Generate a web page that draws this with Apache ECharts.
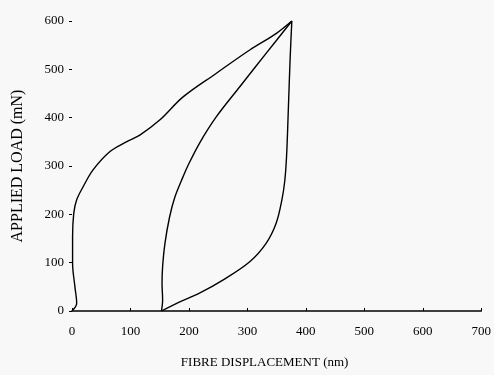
<!DOCTYPE html>
<html>
<head>
<meta charset="utf-8">
<script src="https://cdn.jsdelivr.net/npm/echarts@6/dist/echarts.min.js"></script>
<style>
html,body{margin:0;padding:0;background:#f8f8f8;}
#chart{width:494px;height:375px;}
</style>
</head>
<body>
<div id="chart"></div>
<script>
// Loading curve (from origin up to peak)
var loadingCurve = [
  [0,0],[8,16],[5,50],[1,99],[1,154],[3,202],[8,230],[19,257],[36,292],
  [65,330],[93,350],[116,364],[150,395],[190,443],[247,492],[304,540],
  [349,574],[376,600]
];
// Unloading curve (from peak down to residual displacement)
var unloadingCurve = [
  [376,600],[373,519],[370,416],[367,320],[364,270],[359,230],[349,181],
  [332,140],[304,102],[258,64],[218,37],[179,16],[153,0]
];
// Reloading curve (from residual displacement back up to peak)
var reloadingCurve = [
  [153,0],[155,23],[154,57],[155,92],[159,140],[167,195],[176,236],
  [190,278],[198,300],[218,347],[247,402],[287,464],[332,533],[376,600]
];
var xTicks = [0,100,200,300,400,500,600,700];
var yTicks = [0,100,200,300,400,500,600];

var font = '"Liberation Serif", "DejaVu Serif", serif';
var chart = echarts.init(document.getElementById('chart'));
function lineSeries(name, data) {
  return {
    name: name, type: 'line', data: data, smooth: 0.35, showSymbol: false,
    lineStyle: {color: '#000', width: 1.4}, animation: false
  };
}
chart.setOption({
  backgroundColor: '#f8f8f8',
  animation: false,
  grid: {left: 72, right: 12, top: 21, bottom: 64},
  xAxis: {
    type: 'value', min: xTicks[0], max: xTicks[xTicks.length-1], interval: 100,
    name: 'FIBRE DISPLACEMENT (nm)', nameLocation: 'middle', nameGap: 45,
    nameTextStyle: {fontFamily: font, fontSize: 13, color: '#000', padding: [0, 24, 0, 0]},
    axisLine: {show: true, onZero: false, lineStyle: {color: '#000', width: 1.5}},
    axisTick: {show: true, inside: true, length: 3, lineStyle: {color: '#000'}},
    axisLabel: {fontFamily: font, fontSize: 13, color: '#000', margin: 14},
    splitLine: {show: false}
  },
  yAxis: {
    type: 'value', min: yTicks[0], max: yTicks[yTicks.length-1], interval: 100,
    name: 'APPLIED LOAD (mN)', nameLocation: 'middle', nameGap: 46,
    nameTextStyle: {fontFamily: font, fontSize: 16, color: '#000'},
    axisLine: {show: false},
    axisTick: {show: true, length: 3, lineStyle: {color: '#000'}},
    axisLabel: {fontFamily: font, fontSize: 13, color: '#000', margin: 8},
    splitLine: {show: false}
  },
  series: [
    lineSeries('Loading', loadingCurve),
    lineSeries('Unloading', unloadingCurve),
    lineSeries('Reloading', reloadingCurve)
  ]
});
</script>
</body>
</html>
